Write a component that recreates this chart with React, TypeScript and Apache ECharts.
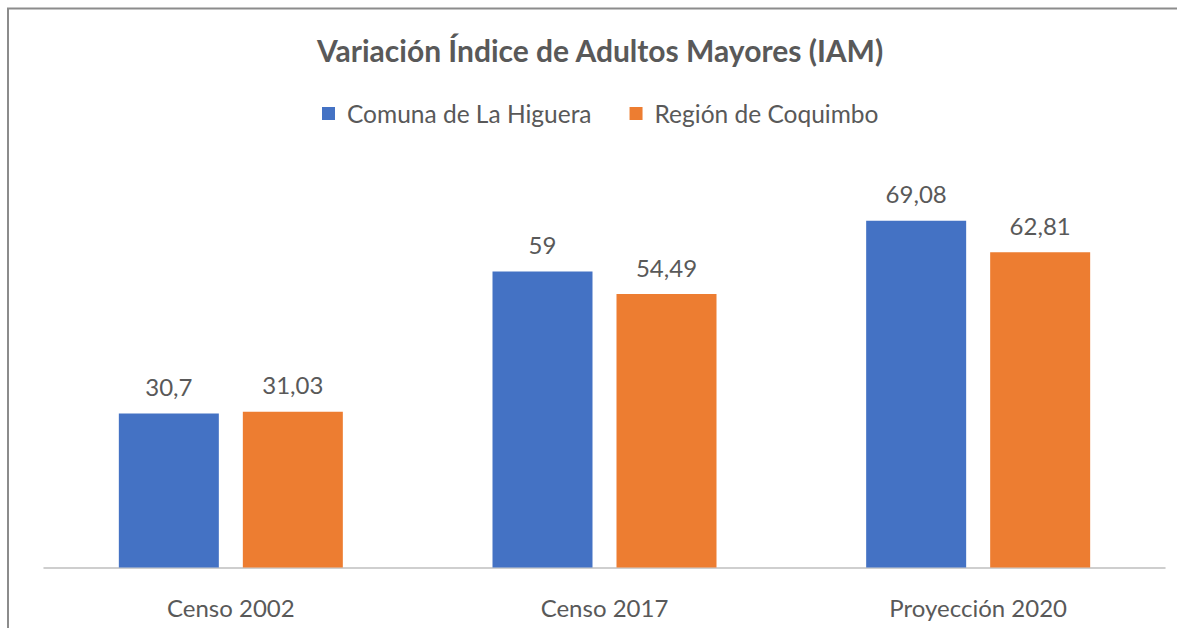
import React, { useEffect, useRef } from "react";
import * as echarts from "echarts";

const categories = ["Censo 2002", "Censo 2017", "Proyección 2020"];
const seriesNames = ["Comuna de La Higuera", "Región de Coquimbo"];
const comunaValues = [30.7, 59, 69.08];
const regionValues = [31.03, 54.49, 62.81];

const FONT = "Lato";
const TEXT = "#595959";

export default function App() {
  const ref = useRef<HTMLDivElement>(null);
  useEffect(() => {
    document.body.style.margin = "0";
    const chart = echarts.init(ref.current!, null, { renderer: "svg" });
    const fmt = (p: any) => String(p.value).replace(".", ",");
    const label = {
      show: true,
      position: "top",
      distance: 15,
      color: TEXT,
      fontSize: 24,
      fontFamily: FONT,
      formatter: fmt,
    };
    chart.setOption({
      animation: false,
      backgroundColor: "#ffffff",
      title: {
        text: "Variación Índice de Adultos Mayores (IAM)",
        left: 312,
        top: 30,
        textStyle: { color: TEXT, fontSize: 30, fontWeight: "bold", fontFamily: FONT },
      },
      legend: {
        top: 96,
        left: 317,
        itemWidth: 13,
        itemHeight: 13,
        itemGap: 38,
        icon: "rect",
        textStyle: { color: TEXT, fontSize: 24.5, fontFamily: FONT, padding: [0, 0, 0, 7] },
        data: seriesNames,
      },
      grid: { left: 44, right: 12, top: 166, bottom: 60.5, containLabel: false },
      xAxis: {
        type: "category",
        data: categories,
        axisLine: { lineStyle: { color: "#bfbfbf", width: 1.5 } },
        axisTick: { show: false },
        axisLabel: { color: TEXT, fontSize: 24, fontFamily: FONT, margin: 28 },
      },
      yAxis: {
        type: "value",
        min: 0,
        max: 80,
        show: false,
        splitLine: { show: false },
      },
      series: [
        {
          name: seriesNames[0],
          type: "bar",
          data: comunaValues,
          barWidth: 100,
          barGap: "24%",
          itemStyle: { color: "#4472C4" },
          label,
        },
        {
          name: seriesNames[1],
          type: "bar",
          data: regionValues,
          barWidth: 100,
          barGap: "24%",
          itemStyle: { color: "#ED7D31" },
          label,
        },
      ],
      graphic: [
        {
          type: "rect",
          silent: true,
          shape: { x: 8, y: 8.5, width: 1200, height: 700 },
          style: { fill: "none", stroke: "#8c8c8c", lineWidth: 2 },
        },
      ],
    });
    return () => chart.dispose();
  }, []);
  return <div ref={ref} style={{ width: 1177, height: 628 }} />;
}
